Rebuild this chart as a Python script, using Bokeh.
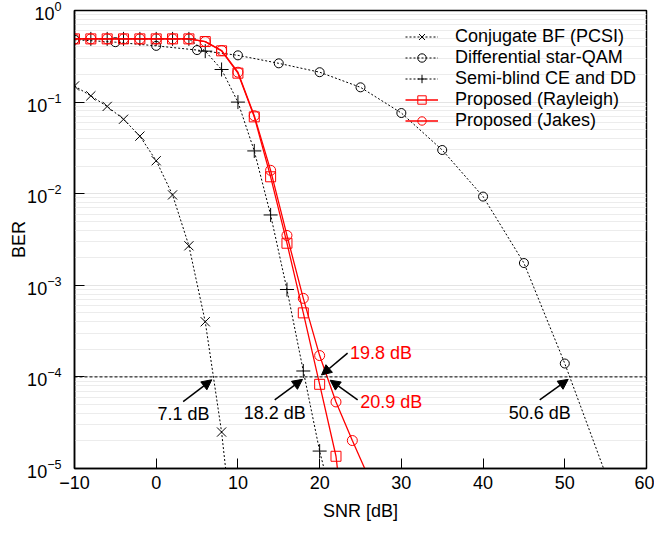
from bokeh.plotting import figure
from bokeh.models import (Arrow, NormalHead, Span, FixedTicker, ColumnDataSource)
from bokeh.core.properties import value
from bokeh.embed import file_html
from bokeh.resources import INLINE

# ---------------- data ----------------
snr_cbf = [-10, -8, -6, -4, -2, 0, 2, 4, 6, 8, 10]
ber_cbf = [0.15, 0.117, 0.0897, 0.065, 0.0425, 0.0229, 0.0097, 0.0027, 4.0e-4, 2.5e-5, 6e-7]

snr_dsq = [-10, -5, 0, 5, 10, 15, 20, 25, 30, 35, 40, 45, 50, 55]
ber_dsq = [0.48, 0.451, 0.411, 0.37, 0.324, 0.265, 0.212, 0.145, 0.076, 0.030, 0.0093, 1.75e-3, 1.40e-4, 8.7e-6]

snr_sb = [-10, -8, -6, -4, -2, 0, 2, 4, 6, 8, 10, 12, 14, 16, 18, 20, 22]
ber_sb = [0.49, 0.49, 0.49, 0.49, 0.49, 0.49, 0.49, 0.49, 0.36, 0.227, 0.100, 0.0293, 5.86e-3, 9.0e-4, 1.16e-4, 1.55e-5, 3e-6]

snr_ray = [-10, -8, -6, -4, -2, 0, 2, 4, 6, 8, 10, 12, 14, 16, 18, 20, 22, 24]
ber_ray = [0.49, 0.49, 0.49, 0.49, 0.49, 0.49, 0.49, 0.49, 0.458, 0.363, 0.207, 0.069, 0.0153, 2.88e-3, 5.0e-4, 8.3e-5, 1.36e-5, 4e-7]

snr_jak = [-10, -8, -6, -4, -2, 0, 2, 4, 6, 8, 10, 12, 14, 16, 18, 20, 22, 24, 26]
ber_jak = [0.49, 0.49, 0.49, 0.49, 0.49, 0.49, 0.49, 0.49, 0.458, 0.366, 0.212, 0.071, 0.018, 3.5e-3, 7.2e-4, 1.71e-4, 5.33e-5, 2.02e-5, 8e-6]

target_ber = 1e-4

ann_text = ["7.1 dB", "18.2 dB", "19.8 dB", "20.9 dB", "50.6 dB"]
ann_x = [3.34, 14.5, 23.7, 24.97, 46.93]
ann_y = [3.93e-5, 4.03e-5, 1.82e-4, 5.33e-5, 4.08e-5]
ann_color = ["black", "black", "red", "red", "black"]
ann_align = ["center", "center", "left", "left", "center"]

arr_x0 = [3.3, 14.5, 23.42, 24.65, 46.93]
arr_y0 = [5.37e-5, 5.6e-5, 1.82e-4, 5.6e-5, 5.6e-5]
arr_x1 = [6.8, 17.9, 20.23, 21.29, 50.42]
arr_y1 = [9.3e-5, 9.4e-5, 1.05e-4, 9.2e-5, 9.4e-5]

x_ticks = [-10, 0, 10, 20, 30, 40, 50, 60]
y_ticks = [1e-5, 1e-4, 1e-3, 1e-2, 1e-1, 1]
y_minor = [m * 10.0 ** e for e in range(-5, 0) for m in range(2, 10)]

x_title = "SNR [dB]"
y_title = "BER"

FONT = "Liberation Sans"

p = figure(width=654, height=523, y_axis_type="log",
           x_range=(-10, 60), y_range=(1e-5, 1),
           output_backend="svg", toolbar_location=None,
           min_border=0,
           min_border_left=74, min_border_right=8,
           min_border_top=10, min_border_bottom=54)

p.background_fill_color = "white"
p.outline_line_color = "black"
p.outline_line_width = 1.5

p.xgrid.grid_line_color = None
p.ygrid.grid_line_color = "#e4e4e4"
p.ygrid.minor_grid_line_color = "#ececec"

p.xaxis.ticker = FixedTicker(ticks=x_ticks)
p.yaxis.ticker = FixedTicker(ticks=y_ticks, minor_ticks=y_minor)

for ax in (p.xaxis[0], p.yaxis[0]):
    ax.major_tick_in = 10
    ax.major_tick_out = 0
    ax.minor_tick_line_color = None
    ax.axis_line_width = 1.5
    ax.axis_line_color = "black"
    ax.major_tick_line_color = "black"
    ax.major_label_text_font = FONT
    ax.major_label_text_font_size = "18px"
    ax.major_label_text_color = "black"
    ax.axis_label_text_font = FONT
    ax.axis_label_text_font_size = "18px"
    ax.axis_label_text_font_style = "normal"
    ax.axis_label_text_color = "black"

p.xaxis.axis_label = x_title
p.yaxis.axis_label = y_title
p.xaxis.major_label_standoff = 7
p.xaxis.axis_label_standoff = 9
p.yaxis.major_label_standoff = 9
p.yaxis.axis_label_standoff = -5

# threshold line
p.add_layout(Span(location=target_ber, dimension="width", line_color="black",
                  line_dash="3 2", line_width=1))

dot = "2 2"
# series
p.line(snr_cbf, ber_cbf, color="black", line_dash=dot, line_width=1, legend_label="Conjugate BF (PCSI)")
p.scatter(snr_cbf, ber_cbf, marker="x", size=13, line_color="black", fill_color=None,
          line_width=1, legend_label="Conjugate BF (PCSI)")

p.line(snr_dsq, ber_dsq, color="black", line_dash=dot, line_width=1, legend_label="Differential star-QAM")
p.scatter(snr_dsq, ber_dsq, marker="circle", size=9, line_color="black", fill_color=None,
          line_width=1, legend_label="Differential star-QAM")

p.line(snr_sb, ber_sb, color="black", line_dash=dot, line_width=1, legend_label="Semi-blind CE and DD")
p.scatter(snr_sb, ber_sb, marker="cross", size=14, line_color="black", fill_color=None,
          line_width=1, legend_label="Semi-blind CE and DD")

p.line(snr_ray, ber_ray, color="red", line_width=1.3, legend_label="Proposed (Rayleigh)")
p.scatter(snr_ray, ber_ray, marker="square", size=10, line_color="red", fill_color=None,
          line_width=1, legend_label="Proposed (Rayleigh)")

p.line(snr_jak, ber_jak, color="red", line_width=1.3, legend_label="Proposed (Jakes)")
p.scatter(snr_jak, ber_jak, marker="circle", size=10, line_color="red", fill_color=None,
          line_width=1, legend_label="Proposed (Jakes)")

# arrows
arr_src = ColumnDataSource(dict(x0=arr_x0, y0=arr_y0, x1=arr_x1, y1=arr_y1))
p.add_layout(Arrow(x_start="x0", y_start="y0", x_end="x1", y_end="y1", source=arr_src,
                   line_color="black", line_width=1.5,
                   end=NormalHead(size=10, fill_color="black", line_color="black")))

# annotation texts
ann_src = ColumnDataSource(dict(x=ann_x, y=ann_y, t=ann_text, c=ann_color, a=ann_align))
p.text(x="x", y="y", text="t", text_color="c", text_align="a", text_baseline="middle",
       text_font=value(FONT), text_font_size=value("18px"), source=ann_src)

lg = p.legend[0]
lg.location = (331, 337)
lg.background_fill_alpha = 0
lg.border_line_color = None
lg.label_text_font = FONT
lg.label_text_font_size = "18px"
lg.label_text_color = "black"
lg.glyph_width = 33
lg.glyph_height = 21
lg.label_height = 21
lg.label_standoff = 17
lg.spacing = 0
lg.margin = 0
lg.padding = 4

open("out.html", "w").write(file_html(p, INLINE))
